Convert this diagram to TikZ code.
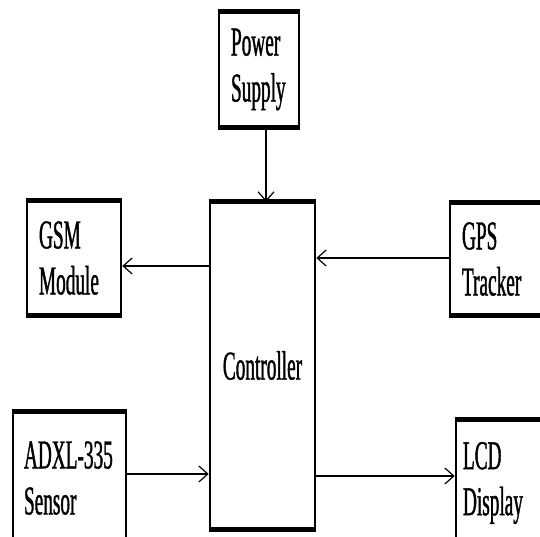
\documentclass[tikz,border=0pt]{standalone}
\usepackage{fontspec}
\usetikzlibrary{arrows.meta}
\newfontfamily\boxfont[FakeStretch=0.47,FakeBold=0.9]{Liberation Serif}

\tikzset{
  block/.style={draw, line width=2.6pt, inner xsep=12pt, inner ysep=0pt,
    align=left, font=\boxfont\fontsize{41}{46}\selectfont},
  arr/.style={line width=1.2pt, -{Straight Barb[length=9pt,width=16pt,line width=1.2pt]}}
}

\begin{document}
\begin{tikzpicture}[x=1pt, y=-1pt]

	% Frame
	\useasboundingbox (0,0) rectangle (540,536);
	\clip (0,0) rectangle (540,536);

	% Blocks
	\node[block, text width=56pt, minimum height=113pt] (power) at (259,69.5) {Power\\Supply};
	\node[block, text width=81pt, minimum height=325pt, align=center] (ctrl) at (262.5,365.5) {Controller};
	\node[block, text width=70pt, minimum height=112pt] (gsm) at (74,258) {GSM\\Module};
	\node[block, text width=76pt, minimum height=110pt] (gps) at (500,259) {GPS\\Tracker};
	\node[block, inner xsep=11pt, text width=91pt, minimum height=130pt] (adxl) at (69.5,478) {ADXL-335\\Sensor};
	\node[block, inner xsep=7pt, text width=86pt, minimum height=124pt] (lcd) at (506,483) {LCD\\Display};

	% Heavy top and bottom edges
	\foreach \b in {power,ctrl,gsm,gps,adxl,lcd}
	{
		\draw[line width=5.4pt] (\b.north west) -- (\b.north east);
		\draw[line width=5.4pt] (\b.south west) -- (\b.south east);
	}

	% Connections
	\draw[arr] (power.south -| 266,0) -- (ctrl.north -| 266,0);
	\draw[arr] (ctrl.west |- 0,266) -- (gsm.east |- 0,266);
	\draw[arr] (gps.west |- 0,258) -- (ctrl.east |- 0,258);
	\draw[arr] (adxl.east |- 0,474) -- (ctrl.west |- 0,474);
	\draw[arr] (ctrl.east |- 0,476) -- (lcd.west |- 0,476);

\end{tikzpicture}
\end{document}
